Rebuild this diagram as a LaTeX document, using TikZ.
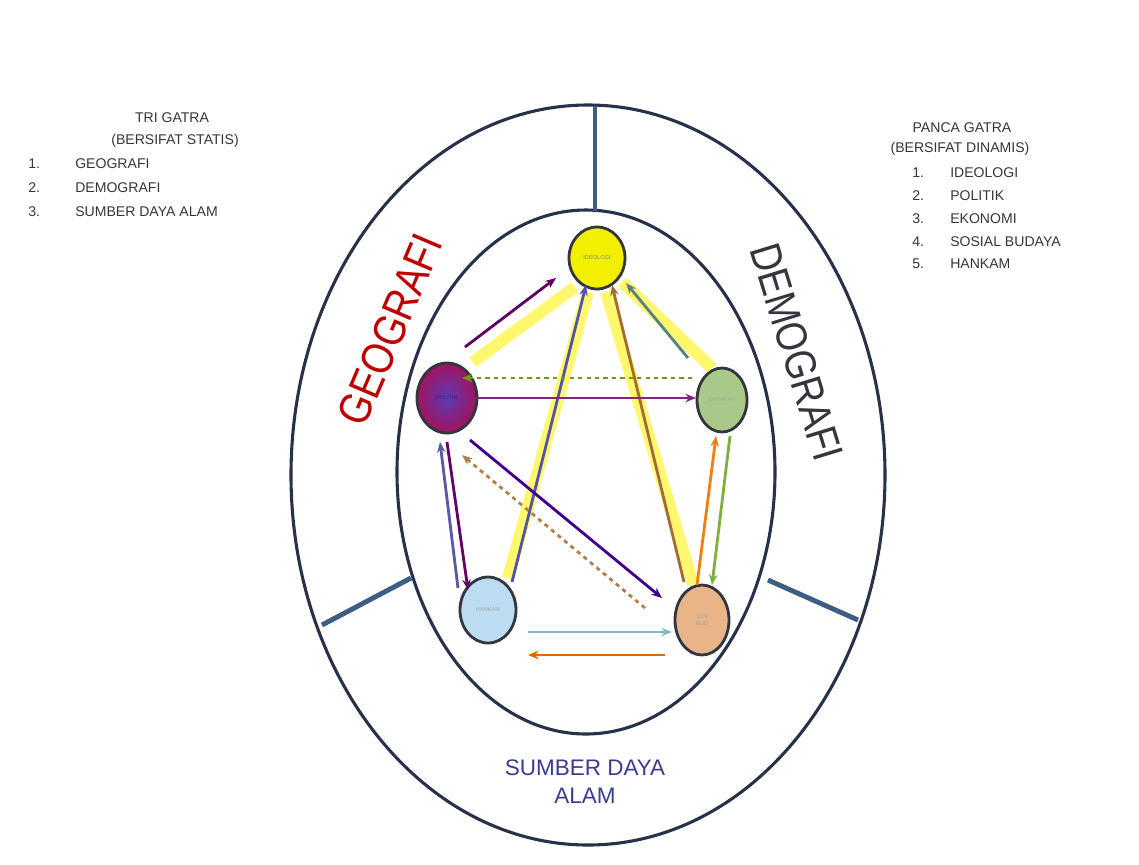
\documentclass[tikz,border=0pt]{standalone}
\usepackage{fontspec}
\setmainfont{Liberation Sans}
\usetikzlibrary{arrows.meta,positioning,calc,shapes.geometric}

\begin{document}
\begin{tikzpicture}[x=0.025cm,y=-0.025cm,>=Stealth,
    every node/.style={font=\fontsize{10}{12}\selectfont, text=ink},
    gatra/.style={ellipse, draw=ink, line width=2pt, fill=#1, inner sep=0pt},
    band/.style={line width=8.5pt, draw=yellow!95!white, opacity=0.6},
    link/.style={draw=#1, line width=2pt, -{Stealth[length=7.5pt,width=6pt]}},
    listitem/.style={anchor=west, inner sep=0pt}]
  \definecolor{ink}{HTML}{33363D}\definecolor{ring}{HTML}{27324A}\definecolor{divider}{HTML}{3D5D84}
  \definecolor{cI}{HTML}{F2F000}\definecolor{cE}{HTML}{A9C98A}\definecolor{cH}{HTML}{BCDCF2}\definecolor{cS}{HTML}{E9B487}
  \definecolor{cP}{HTML}{A3125E}\definecolor{cPin}{HTML}{5A3CB4}\definecolor{cSDA}{HTML}{3B3B8F}
  \useasboundingbox (0,0) rectangle (1139,864);
  % rings
  \draw[ring, line width=2.2pt] (588,475) ellipse [x radius=297, y radius=370];
  \draw[ring, line width=2.2pt] (586,472) ellipse [x radius=189, y radius=262];
  \draw[divider, line width=3.5pt] (595,106) -- (595,211);
  \draw[divider, line width=3.5pt] (322,625) -- (411,578);
  \draw[divider, line width=3.5pt] (768,580) -- (858,620);
  % ring labels
  \node[text=red!75!black, rotate=67, font=\fontsize{32}{32}\selectfont, xscale=0.85, inner sep=0pt] (geo) at (390,330) {GEOGRAFI};
  \node[rotate=-73, font=\fontsize{31}{31}\selectfont, xscale=0.85, inner sep=0pt] (demo) at (797,352) {DEMOGRAFI};
  \node[text=cSDA, font=\fontsize{16}{20}\selectfont, align=center] (sda) at (585,782) {SUMBER DAYA\\ALAM};
  % gatra nodes
  \node[gatra=cI, minimum width=56*0.025cm, minimum height=62*0.025cm] (I) at (597,258) {};
  \node[gatra=cP, minimum width=60*0.025cm, minimum height=70*0.025cm,
        inner color=cPin, outer color=cP] (P) at (447,398) {};
  \node[gatra=cE, minimum width=50*0.025cm, minimum height=64*0.025cm] (E) at (722,400) {};
  \node[gatra=cH, minimum width=56*0.025cm, minimum height=66*0.025cm] (H) at (488,610) {};
  \node[gatra=cS, minimum width=54*0.025cm, minimum height=70*0.025cm] (S) at (702,620) {};
  \node[font=\fontsize{4}{5}\selectfont, text=ink!60] at (I) {IDEOLOGI};
  \node[font=\fontsize{4}{5}\selectfont, text=cPin!60!black] at (P) {POLITIK};
  \node[font=\fontsize{4}{5}\selectfont, text=ink!45] at (E) {EKONOMI};
  \node[font=\fontsize{4}{5}\selectfont, text=ink!45] at (H) {HANKAM};
  \node[font=\fontsize{4}{5}\selectfont, text=ink!45, align=center] at (S) {SOS\\BUD};
  % yellow bands from ideologi
  \draw[band] ($(I)+(-22,29)$) -- ($(P)+(26,-36)$);
  \draw[band] ($(I)+(25,24)$) -- ($(E)+(-10,-32)$);
  \draw[band] ($(I)+(-9,34)$) -- ($(H)+(20,-32)$);
  \draw[band] ($(I)+(9,34)$) -- ($(S)+(-9,-36)$);
  % connectors
  \draw[link=violet!75!black] ($(P)+(18,-51)$) -- ($(I)+(-41,20)$);
  \draw[link=gray!70!teal] ($(E)+(-34,-42)$) -- ($(I)+(29,25)$);
  \draw[link=blue!35!gray] ($(H)+(24,-28)$) -- ($(I)+(-11,27)$);
  \draw[link=brown!85!black] ($(S)+(-18,-38)$) -- ($(I)+(15,27)$);
  \draw[link=olive!70!green, dashed] ($(E)+(-30,-22)$) -- ($(P)+(15,-20)$);
  \draw[link=violet!70!gray] ($(P)+(30,0)$) -- ($(E)+(-26,-2)$);
  \draw[link=blue!40!violet!80!black] ($(P)+(23,42)$) -- ($(S)+(-40,-22)$);
  \draw[link=brown!80!gray, dashed] ($(S)+(-57,-12)$) -- ($(P)+(15,57)$);
  \draw[link=blue!30!gray] ($(H)+(-30,-22)$) -- ($(P)+(-7,44)$);
  \draw[link=violet!80!black] ($(P)+(0,44)$) -- ($(H)+(-20,-20)$);
  \draw[link=cyan!45!gray!80] ($(H)+(40,22)$) -- ($(S)+(-30,12)$);
  \draw[link=orange!85!black] ($(S)+(-37,35)$) -- ($(H)+(40,45)$);
  \draw[link=orange!75!brown] ($(S)+(-5,-35)$) -- ($(E)+(-6,36)$);
  \draw[link=olive!50!green!80] ($(E)+(8,36)$) -- ($(S)+(10,-35)$);
  % tri gatra
  \node (tri) at (172,118) {TRI GATRA};
  \node (tris) at (175,141) {(BERSIFAT STATIS)};
  \foreach \i/\t [count=\k] in {1/GEOGRAFI,2/DEMOGRAFI,3/SUMBER DAYA ALAM} {
    \node[listitem] (trin\k) at (28,140+24*\k) {\i.};
    \node[listitem] (trit\k) at (75,140+24*\k) {\t};
  }
  % panca gatra
  \node (panca) at (962,128) {PANCA GATRA};
  \node (pancas) at (960,149) {(BERSIFAT DINAMIS)};
  \foreach \i/\t [count=\k] in {1/IDEOLOGI,2/POLITIK,3/EKONOMI,4/SOSIAL BUDAYA,5/HANKAM} {
    \node[listitem] (pancan\k) at (912,150+22.8*\k) {\i.};
    \node[listitem] (pancat\k) at (950,150+22.8*\k) {\t};
  }
\end{tikzpicture}
\end{document}
